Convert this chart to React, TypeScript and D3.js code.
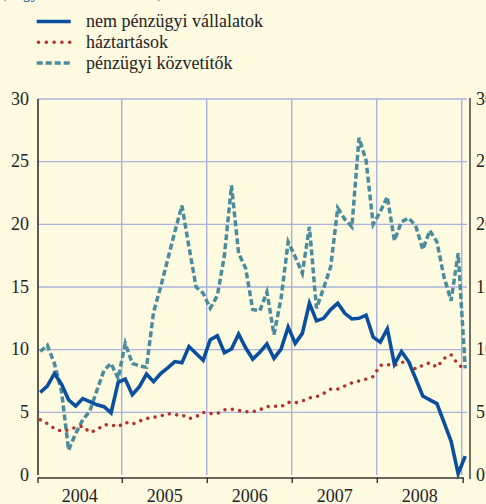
import React from 'react';
import * as d3 from 'd3';

// Monthly data, Jan 2004 – Jan 2009 (percent)
const years = ['2004', '2005', '2006', '2007', '2008'];
const yTicks = [0, 5, 10, 15, 20, 25, 30];

const seriesNames = ['nem pénzügyi vállalatok', 'háztartások', 'pénzügyi közvetítők'];

const nemPenzugyi = [
  6.6, 7.1, 8.1, 7.25, 6.0, 5.5, 6.1, 5.85, 5.6, 5.45, 4.95, 7.4,
  7.65, 6.4, 7.05, 8.05, 7.45, 8.1, 8.55, 9.05, 8.95, 10.25, 9.7, 9.15,
  10.8, 11.1, 9.75, 10.05, 11.25, 10.15, 9.25, 9.8, 10.45, 9.3, 10.05, 11.8,
  10.5, 11.3, 13.7, 12.3, 12.5, 13.2, 13.7, 12.9, 12.45, 12.5, 12.75, 11.0,
  10.6, 11.65, 8.85, 9.85, 9.05, 7.7, 6.3, 6.0, 5.7, 4.2, 2.7, 0.1,
  1.5,
];

const haztartasok = [
  4.4, 4.1, 3.7, 3.5, 3.6, 3.8, 3.9, 3.4, 3.6, 4.0, 4.0, 3.85,
  4.2, 4.05, 4.3, 4.5, 4.6, 4.7, 4.9, 4.8, 4.8, 4.5, 4.65, 5.0,
  4.9, 4.9, 5.2, 5.25, 5.15, 5.05, 5.05, 5.2, 5.45, 5.5, 5.45, 5.8,
  5.75, 5.9, 6.15, 6.25, 6.5, 6.85, 6.85, 7.1, 7.35, 7.5, 7.65, 7.85,
  8.75, 8.8, 8.75, 9.0, 9.0, 8.45, 8.75, 8.95, 8.6, 9.3, 9.6, 8.8,
  8.45,
];

const penzugyiKozvetitok = [
  9.85, 10.35, 8.9, 6.7, 2.0, 3.3, 4.4, 5.1, 6.75, 8.35, 8.9, 7.7,
  10.5, 8.9, 8.7, 8.6, 13.0, 15.0, 17.2, 19.4, 21.5, 18.2, 15.0, 14.5,
  13.3, 14.3, 17.5, 23.1, 17.7, 16.5, 13.2, 13.1, 14.6, 11.2, 14.1, 18.6,
  17.4, 16.1, 19.8, 13.3, 14.9, 16.6, 21.3, 20.4, 19.8, 26.9, 25.1, 20.0,
  21.0, 22.2, 18.7, 20.2, 20.5, 19.9, 18.0, 19.5, 18.6, 15.8, 13.9, 17.7,
  8.5,
];

const W = 486;
const H = 504;
const FONT = "'Liberation Serif', 'Times New Roman', Times, 'DejaVu Serif', serif";
const BG = '#fefbe1';
const GRID = '#a9b1dc';
const BLUE = '#0a4f9e';
const RED = '#b3302e';
const TEAL = '#4a8b9d';
const INK = '#222';

const txt: React.CSSProperties = { fontFamily: FONT, fontSize: 18 };

export default function App() {
  const x = d3.scaleLinear().domain([0, 60]).range([36.7, 461.7]);
  const y = d3.scaleLinear().domain([0, 30]).range([475, 99]);
  const plotLeft = 38;
  const plotRight = 470;

  const line = d3
    .line<number>()
    .x((_, i) => x(i + 0.5))
    .y((d) => y(d));

  const yearStarts = d3.range(0, years.length + 1).map((k) => k * 12);

  const legend = [
    { name: seriesNames[0], color: BLUE, dash: undefined, cap: 'butt', w: 3.5 },
    { name: seriesNames[1], color: RED, dash: '0 7.8', cap: 'round', w: 3.6 },
    { name: seriesNames[2], color: TEAL, dash: '6 3', cap: 'butt', w: 3.5 },
  ];

  return (
    <svg
      width={W}
      height={H}
      style={{ position: 'absolute', left: 0, top: 0, display: 'block', fontFamily: FONT }}
    >
      <defs>
        <clipPath id="plotclip">
          <rect x={plotLeft} y={90} width={plotRight - plotLeft - 2} height={390} />
        </clipPath>
      </defs>
      <rect x={0} y={0} width={W} height={H} fill={BG} />

      {/* cut-off subtitle at very top */}
      <text x={2} y={-2.5} style={{ ...txt, fontSize: 17, fontStyle: 'italic' }} fill="#2a6ab0">
        (negyedéves adatok, %)
      </text>

      {/* legend */}
      {legend.map((l, k) => {
        const ly = 21.5 + k * 20.8;
        return (
          <g key={l.name}>
            <line
              x1={k === 1 ? 38.5 : 36.7}
              x2={70.7}
              y1={ly}
              y2={ly}
              stroke={l.color}
              strokeWidth={l.w}
              strokeDasharray={l.dash}
              strokeLinecap={l.cap as any}
            />
            <text x={86} y={ly + 5.4} style={txt} fill={INK}>
              {l.name}
            </text>
          </g>
        );
      })}

      {/* horizontal gridlines */}
      {yTicks
        .filter((t) => t > 0)
        .map((t) => (
          <line
            key={'h' + t}
            x1={plotLeft}
            x2={467}
            y1={y(t)}
            y2={y(t)}
            stroke={GRID}
            strokeWidth={1.4}
          />
        ))}
      {/* vertical gridlines */}
      {yearStarts.slice(1).map((m) => (
        <line
          key={'v' + m}
          x1={x(m)}
          x2={x(m)}
          y1={y(30)}
          y2={y(0)}
          stroke={GRID}
          strokeWidth={1.4}
        />
      ))}

      {/* axes */}
      <line x1={plotLeft} x2={plotLeft} y1={y(30)} y2={y(0)} stroke="#333" strokeWidth={1.6} />
      <line x1={plotRight} x2={plotRight} y1={98} y2={479} stroke="#333" strokeWidth={1.4} />
      <line x1={plotLeft} x2={x(60) + 1.5} y1={478} y2={478} stroke="#333" strokeWidth={1.4} />
      {yearStarts.map((m, k) => {
        const tx = k === 0 ? plotLeft : x(m) + (k === years.length ? 1.5 : 0.6);
        return (
          <line key={'t' + m} x1={tx} x2={tx} y1={477.3} y2={483} stroke="#333" strokeWidth={1.4} />
        );
      })}

      {/* y labels left and right */}
      {yTicks.map((t) => (
        <g key={'yl' + t}>
          <text x={29} y={y(t) + 5.5} style={txt} textAnchor="end" fill={INK}>
            {t}
          </text>
          <text x={476} y={y(t) + 5.5} style={txt} textAnchor="start" fill={INK}>
            {t}
          </text>
        </g>
      ))}

      {/* year labels */}
      {years.map((yr, k) => (
        <text
          key={yr}
          x={(x(k * 12) + x(k * 12 + 12)) / 2 + 0.5}
          y={501.5}
          style={txt}
          textAnchor="middle"
          fill={INK}
        >
          {yr}
        </text>
      ))}

      {/* series */}
      <g clipPath="url(#plotclip)" fill="none">
        <path
          d={line(penzugyiKozvetitok) || ''}
          stroke={TEAL}
          strokeWidth={3.5}
          strokeDasharray="6 3"
          strokeLinejoin="miter"
        />
        <path
          d={line(haztartasok) || ''}
          stroke={RED}
          strokeWidth={3.6}
          strokeDasharray="0 7.4"
          strokeLinecap="round"
        />
        <path d={line(nemPenzugyi) || ''} stroke={BLUE} strokeWidth={3.6} strokeLinejoin="miter" />
      </g>
    </svg>
  );
}
